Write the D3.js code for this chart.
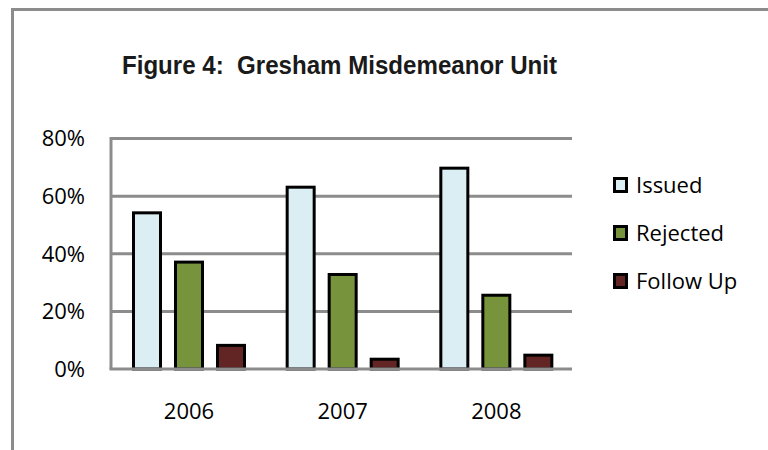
<!DOCTYPE html>
<html>
<head>
<meta charset="utf-8">
<script src="https://cdn.jsdelivr.net/npm/d3@7"></script>
<style>
  body { margin: 0; background: #fff; }
  svg { display: block; }
</style>
</head>
<body>
<svg id="chart" width="768" height="450"></svg>
<script>
// chart data
var years = ["2006", "2007", "2008"];
var seriesNames = ["Issued", "Rejected", "Follow Up"];
var issued   = [54.2, 63.1, 69.7];
var rejected = [37.1, 32.8, 25.6];
var followUp = [8.2, 3.4, 4.8];
var yTicks = [0, 20, 40, 60, 80];
var titleText = "Figure 4:  Gresham Misdemeanor Unit";

var seriesColors = { "Issued": "#dbeef3", "Rejected": "#77933c", "Follow Up": "#632523" };
var seriesValues = { "Issued": issued, "Rejected": rejected, "Follow Up": followUp };

var svg = d3.select("#chart");
var gridColor = "#8c8c8c";
var labelFont = "'Open Sans', sans-serif";
var margin = { left: 111, right: 196, top: 138.5, bottom: 81 };
var width  = 768 - margin.left - margin.right,
    height = 450 - margin.top - margin.bottom;

// outer frame (only top and left edges visible)
svg.append("path")
    .attr("d", "M12.5,450 L12.5,9.5 L768,9.5")
    .attr("fill", "none")
    .attr("stroke", gridColor)
    .attr("stroke-width", 3);

svg.append("text")
    .attr("x", 122)
    .attr("y", 74)
    .attr("font-family", "'Liberation Sans', Arial, sans-serif")
    .attr("font-weight", "bold")
    .attr("font-size", 26)
    .attr("textLength", 435)
    .attr("lengthAdjust", "spacingAndGlyphs")
    .attr("fill", "#1a1a1a")
    .style("white-space", "pre")
    .text(titleText);

var x0 = d3.scaleBand().domain(years).range([0, width]);
var x1 = d3.scaleBand().domain(seriesNames).range([21, 135]).paddingInner(12 / 42);
var y  = d3.scaleLinear().domain([0, 80]).range([height, 0]);

var g = svg.append("g")
    .attr("transform", "translate(" + margin.left + "," + margin.top + ")");

// gridlines
g.selectAll("line.grid")
    .data(yTicks.filter(function(d){ return d > 0; }))
    .enter().append("line")
        .attr("class", "grid")
        .attr("x1", 0)
        .attr("x2", width)
        .attr("y1", function(d){ return y(d); })
        .attr("y2", function(d){ return y(d); })
        .attr("stroke", gridColor)
        .attr("stroke-width", 3);

// y tick labels
g.selectAll("text.ytick")
    .data(yTicks)
    .enter().append("text")
        .attr("class", "ytick")
        .attr("x", -26)
        .attr("y", function(d){ return y(d); })
        .attr("dy", "0.36em")
        .attr("text-anchor", "end")
        .attr("font-family", labelFont)
        .attr("font-size", 22)
        .attr("fill", "#000")
        .text(function(d){ return d + "%"; });

// bars
var groups = g.selectAll("g.year")
    .data(years)
    .enter().append("g")
        .attr("class", "year")
        .attr("transform", function(d){ return "translate(" + x0(d) + ",0)"; });

groups.selectAll("rect")
    .data(function(d, i){
        return seriesNames.map(function(s){ return { key: s, value: seriesValues[s][i] }; });
    })
    .enter().append("rect")
        .attr("x", function(d){ return x1(d.key) + 1.5; })
        .attr("width", x1.bandwidth() - 3)
        .attr("y", function(d){ return y(d.value); })
        .attr("height", function(d){ return height - y(d.value); })
        .attr("fill", function(d){ return seriesColors[d.key]; })
        .attr("stroke", "#000")
        .attr("stroke-width", 3);

// axes lines
g.append("line")
    .attr("x1", 0).attr("x2", 0)
    .attr("y1", y(80) - 1.5).attr("y2", height)
    .attr("stroke", gridColor)
    .attr("stroke-width", 3);
g.append("line")
    .attr("x1", -1.5).attr("x2", width)
    .attr("y1", height).attr("y2", height)
    .attr("stroke", gridColor)
    .attr("stroke-width", 3);

// category labels
g.selectAll("text.xlab")
    .data(years)
    .enter().append("text")
        .attr("class", "xlab")
        .attr("x", function(d){ return x0(d) + 78; })
        .attr("y", height + 42)
        .attr("dy", "0.36em")
        .attr("text-anchor", "middle")
        .attr("font-family", labelFont)
        .attr("font-size", 22)
        .attr("fill", "#000")
        .text(function(d){ return d; });

// legend
var legend = svg.selectAll("g.legend")
    .data(seriesNames)
    .enter().append("g")
        .attr("class", "legend")
        .attr("transform", function(d, i){ return "translate(614.5," + (185 + i * 48) + ")"; });

legend.append("rect")
    .attr("x", 0)
    .attr("y", -6.5)
    .attr("width", 12)
    .attr("height", 13)
    .attr("fill", function(d){ return seriesColors[d]; })
    .attr("stroke", "#000")
    .attr("stroke-width", 3);

legend.append("text")
    .attr("x", 21.5)
    .attr("y", 0)
    .attr("dy", "0.36em")
    .attr("font-family", labelFont)
    .attr("font-size", 22)
    .attr("fill", "#000")
    .text(function(d){ return d; });
</script>
</body>
</html>
